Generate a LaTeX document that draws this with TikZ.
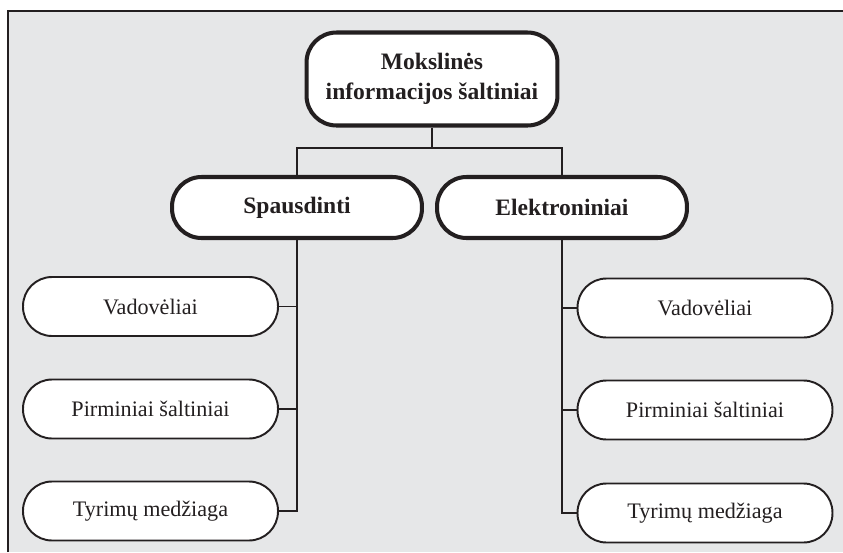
\documentclass[tikz,border=0pt]{standalone}
\usepackage{fontspec}
\setmainfont{Liberation Serif}
\usetikzlibrary{calc}
\definecolor{panel}{HTML}{E6E7E8}
\definecolor{ink}{HTML}{231F20}
\tikzset{
  rootbox/.style={draw=ink, fill=white, line width=2.3pt, rounded corners=0.6cm,
    minimum width=5.02cm, minimum height=1.86cm, inner sep=0pt, align=center,
    font=\fontsize{13.4}{17}\selectfont\bfseries, text=ink},
  branchbox/.style={draw=ink, fill=white, line width=2.3pt, rounded corners=0.59cm,
    minimum width=5.0cm, minimum height=1.22cm, inner sep=0pt,
    font=\fontsize{13.4}{17}\selectfont\bfseries, text=ink},
  leafbox/.style={draw=ink, fill=white, line width=1.1pt, rounded corners=0.58cm,
    minimum width=5.1cm, minimum height=1.18cm, inner sep=0pt,
    font=\fontsize{12.6}{15}\selectfont, text=ink},
  link/.style={draw=ink, line width=1.1pt}
}
\begin{document}
\begin{tikzpicture}[x=0.02cm, y=-0.02cm]
  \useasboundingbox (0,0) rectangle (843,552);
  % panel with rule on top and left
  \fill[panel] (8,11) rectangle (843,552);
  \draw[draw=ink, line width=1pt] (8,552) -- (8,11) -- (843,11);

  % nodes
  \node[rootbox] (root) at (432,79) {Mokslinės\\informacijos šaltiniai};
  \node[branchbox] (print) at (297,207.5) {Spausdinti};
  \node[branchbox] (elec) at (562,207.5) {Elektroniniai};

  \node[leafbox] (p1) at (150.5,306.5) {Vadovėliai};
  \node[leafbox] (p2) at (150.5,409) {Pirminiai šaltiniai};
  \node[leafbox] (p3) at (150.5,511) {Tyrimų medžiaga};

  \node[leafbox] (e1) at (705,308) {Vadovėliai};
  \node[leafbox] (e2) at (705,410) {Pirminiai šaltiniai};
  \node[leafbox] (e3) at (705,513) {Tyrimų medžiaga};

  % connectors
  \coordinate (split) at (432,148);
  \draw[link] (root.south) -- (split);
  \draw[link] (split) -| (print.north);
  \draw[link] (split) -| (elec.north);

  \draw[link] (print.south) |- (p3.east);
  \draw[link] (p1.east) -- (p1.east -| print.south);
  \draw[link] (p2.east) -- (p2.east -| print.south);

  \draw[link] (elec.south) |- (e3.west);
  \draw[link] (e1.west) -- (e1.west -| elec.south);
  \draw[link] (e2.west) -- (e2.west -| elec.south);
\end{tikzpicture}
\end{document}
